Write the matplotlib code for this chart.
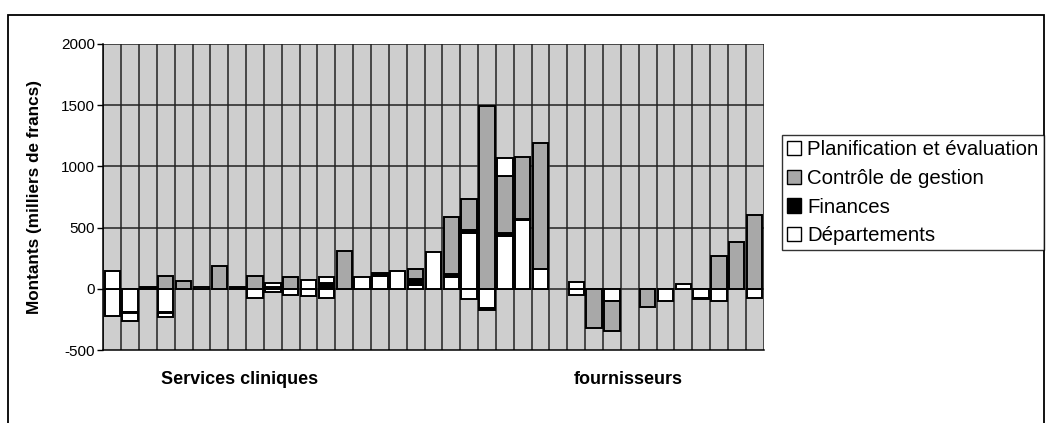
import numpy as np
import matplotlib.pyplot as plt
from matplotlib.patches import Patch, Rectangle

plt.rcParams['font.family'] = ['Liberation Sans', 'DejaVu Sans']

# montants par catégorie (milliers de francs), 37 catégories
departements = [-220, -190, 0, -190, 0, 0, 0, 0, -75, -25,
                -45, -55, -70, 0, 95, 110, 150, 35, 305, 100,
                455, -155, 430, 560, 160, 0, -50, 0, -95, 0,
                0, -100, 0, -70, -95, 0, -75]
finances = [0, -10, 15, -10, 0, 0, 0, 15, 0, 20,
            0, 0, 45, 0, 0, 20, 0, 50, 0, 20,
            25, -15, 25, 15, 0, 0, 0, 0, 0, 0,
            0, 0, 0, -10, 0, 0, 0]
controle = [0, 0, 0, 105, 65, 0, 190, 0, 105, 0,
            100, 0, 0, 310, 0, 0, 0, 80, 0, 465,
            255, 1490, 470, 500, 1030, 0, 0, -320, -245, 0,
            -150, 0, 0, 0, 270, 385, 600]
planification = [150, -65, 0, -30, 0, 20, 0, 0, 0, 30,
                 0, 70, 55, 0, 0, 0, 0, 0, 0, 0,
                 -85, 0, 145, 0, 0, 0, 55, 0, 0, 0,
                 0, 0, 40, 0, 0, 0, 0]

series = [("Départements", departements, "white"),
          ("Finances", finances, "black"),
          ("Contrôle de gestion", controle, "#a8a8a8"),
          ("Planification et évaluation", planification, "white")]

groupes = ["Services cliniques", "fournisseurs"]
groupes_x = [7.15, 28.9]

n = len(departements)
x = np.arange(n)

fig = plt.figure(figsize=(10.46, 4.23), dpi=100)
ax = fig.add_axes([0.0988, 0.172, 0.6312, 0.724])
ax.set_facecolor("#cecece")

# empilement séparé pour les montants positifs et négatifs
pos = np.zeros(n)
neg = np.zeros(n)
for nom, vals, couleur in series:
    v = np.array(vals, dtype=float)
    bas = np.where(v >= 0, pos, neg)
    m = v != 0
    ax.bar(x[m], v[m], bottom=bas[m], width=0.86, color=couleur,
           edgecolor="black", linewidth=1.4, zorder=3)
    pos += np.clip(v, 0, None)
    neg += np.clip(v, None, 0)

ax.set_xlim(-0.5, n - 0.5)
ax.set_ylim(-500, 2000)
ax.set_yticks([-500, 0, 500, 1000, 1500, 2000])
ax.set_yticklabels(["-500", "0", "500", "1000", "1500", "2000"],
                   family=["Liberation Sans Narrow", "Liberation Sans"], fontsize=11)
ax.tick_params(axis="y", length=4, width=1, pad=2)
ax.set_xticks([])

for yv in [0, 500, 1000, 1500, 2000]:
    ax.axhline(yv, color="#222222", lw=1.1, zorder=1)
for xv in np.arange(n + 1) - 0.5:
    ax.axvline(xv, color="#222222", lw=1.1, zorder=1)

for s in ["top", "right"]:
    ax.spines[s].set_visible(False)
ax.spines["left"].set_linewidth(1.1)
ax.spines["bottom"].set_linewidth(1.1)
ax.spines["bottom"].set_linestyle((0, (2, 1)))

ax.set_ylabel("Montants (milliers de francs)", fontsize=12.3, fontweight="bold", labelpad=14)

for g, gx in zip(groupes, groupes_x):
    ax.text(gx, -0.095, g, transform=ax.get_xaxis_transform(), ha="center",
            va="center", fontsize=13, fontweight="bold")

poignees = [Patch(facecolor=c, edgecolor="black", label=nm)
            for nm, _, c in series[::-1]]
leg = fig.legend(handles=poignees, loc="upper left", bbox_to_anchor=(0.7475, 0.68),
                 fontsize=14.7, frameon=True, fancybox=False, edgecolor="black",
                 handlelength=0.7, handleheight=0.7, handletextpad=0.3,
                 labelspacing=0.47, borderpad=0.25, borderaxespad=0)
leg.get_frame().set_linewidth(1.0)

# cadre extérieur du graphique
fig.patches.append(Rectangle((8 / 1046, -0.05), 1036 / 1046, 1 - 15 / 423 + 0.05,
                             transform=fig.transFigure, fill=False,
                             edgecolor="black", lw=1.3, clip_on=False))

fig.savefig("out.png", dpi=100)
